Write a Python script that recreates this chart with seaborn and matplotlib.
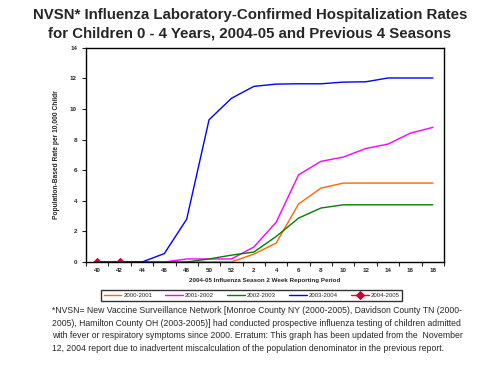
import matplotlib
matplotlib.use("Agg")
import matplotlib.pyplot as plt
import seaborn as sns
import pandas as pd

# 2 week reporting periods (MMWR week)
weeks = ["40", "42", "44", "46", "48", "50", "52", "2", "4", "6", "8", "10", "12", "14", "16", "18"]

s2000 = [0, 0, 0, 0, 0, 0, 0, 0.52, 1.24, 3.79, 4.83, 5.16, 5.16, 5.16, 5.16, 5.16]
s2001 = [0, 0, 0, 0, 0.2, 0.2, 0.2, 0.98, 2.6, 5.7, 6.58, 6.86, 7.42, 7.71, 8.43, 8.8]
s2002 = [0, 0, 0, 0, 0, 0.2, 0.45, 0.65, 1.67, 2.87, 3.53, 3.74, 3.74, 3.74, 3.74, 3.74]
s2003 = [0, 0, 0, 0.55, 2.8, 9.3, 10.7, 11.48, 11.63, 11.65, 11.65, 11.76, 11.78, 12.03, 12.03, 12.03]
s2004 = [0, 0]

seasons = ["2000-2001", "2001-2002", "2002-2003", "2003-2004", "2004-2005"]
colors = ["#ff6600", "#ff00ff", "#008000", "#0000ff", "#ff0000"]

rows = []
for name, vals in zip(seasons, [s2000, s2001, s2002, s2003, s2004]):
    for i, v in enumerate(vals):
        rows.append({"pos": i, "week": weeks[i], "season": name, "rate": v})
df = pd.DataFrame(rows)

sns.set_style("white")
plt.rcParams["font.family"] = ["Liberation Sans", "DejaVu Sans"]

fig = plt.figure(figsize=(5, 3.68), dpi=100)
ax = fig.add_axes([0.172, 0.288, 0.716, 0.582])

for name, col in zip(seasons, colors):
    d = df[df["season"] == name]
    if name == "2004-2005":
        sns.lineplot(data=d, x="pos", y="rate", ax=ax, color=col, lw=1.0,
                     marker="D", markersize=4, markerfacecolor="#cc0033",
                     markeredgecolor="#cc0033", label=name)
    else:
        sns.lineplot(data=d, x="pos", y="rate", ax=ax, color=col, lw=1.0, label=name)

ax.set_xlim(-0.5, len(weeks) - 0.5)
ax.set_ylim(0, 14)
ax.set_xticks(range(len(weeks)))
ax.set_xticklabels(weeks)
ax.set_xticks([i - 0.5 for i in range(len(weeks) + 1)], minor=True)
ax.tick_params(axis="x", which="major", length=0, labelsize=4.5, pad=4)
ax.tick_params(axis="x", which="minor", length=3, width=0.8, direction="out", bottom=True)
ax.set_yticks(range(0, 15, 2))
ax.tick_params(axis="y", length=3, width=0.8, direction="out", left=True, labelsize=4.5)
for lab in ax.get_xticklabels() + ax.get_yticklabels():
    lab.set_fontweight("bold")
for sp in ax.spines.values():
    sp.set_color("black")
    sp.set_linewidth(1.0)

ax.set_xlabel("2004-05 Influenza Season 2 Week Reporting Period", fontsize=4.5,
              fontweight="bold", labelpad=4)
ax.set_ylabel("Population-Based Rate per 10,000 Childr", fontsize=4.8,
              fontweight="bold", labelpad=7)

handles, labels = ax.get_legend_handles_labels()
ax.legend_.remove()
leg = fig.legend(handles, labels, loc="center", ncol=5, fontsize=4.3,
                 frameon=True, fancybox=False, edgecolor="black",
                 handlelength=3.0, columnspacing=2.2,
                 borderpad=0.45, handletextpad=0.3)
leg.set_bbox_to_anchor((0.503, 0.197), transform=fig.transFigure)
leg.get_frame().set_linewidth(1.0)

fig.text(0.5, 0.958, "NVSN* Influenza Laboratory-Confirmed Hospitalization Rates",
         ha="center", va="center", fontsize=10.8, fontweight="bold")
fig.text(0.5, 0.908, "for Children 0 - 4 Years, 2004-05 and Previous 4 Seasons",
         ha="center", va="center", fontsize=10.8, fontweight="bold")

note = ("*NVSN= New Vaccine Surveillance Network [Monroe County NY (2000-2005), Davidson County TN (2000-\n"
        "2005), Hamilton County OH (2003-2005)] had conducted prospective influenza testing of children admitted\n"
        "with fever or respiratory symptoms since 2000. Erratum: This graph has been updated from the  November\n"
        "12, 2004 report due to inadvertent miscalculation of the population denominator in the previous report.")
fig.text(0.104, 0.168, note, ha="left", va="top", fontsize=6.2, linespacing=1.5)

fig.savefig("out.png", dpi=100)
